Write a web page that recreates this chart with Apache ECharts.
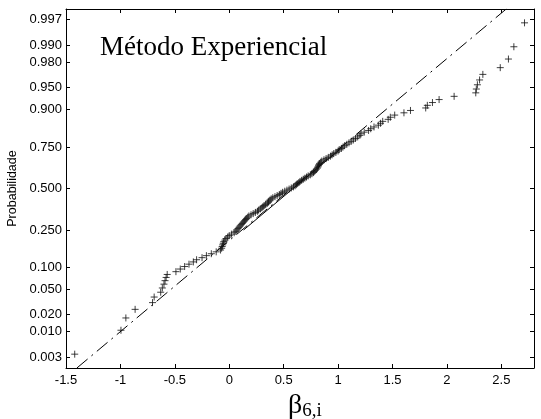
<!DOCTYPE html>
<html>
<head>
<meta charset="utf-8">
<script src="https://cdn.jsdelivr.net/npm/echarts@6/dist/echarts.min.js"></script>
<style>html,body{margin:0;padding:0;background:#fff}#c{width:541px;height:419px}</style>
</head>
<body>
<div id="c"></div>
<script>
// Probability tick labels of the normal-probability y axis
const probTicks = [0.003, 0.01, 0.02, 0.05, 0.10, 0.25, 0.50, 0.75, 0.90, 0.95, 0.98, 0.99, 0.997];
// Sorted sample values beta_6,i
const beta = [
  -1.42, -0.995, -0.95, -0.865, -0.705, -0.69, -0.63, -0.615, -0.60, -0.59, -0.58, -0.57,
  -0.49, -0.45, -0.41, -0.37, -0.33, -0.30, -0.25, -0.21, -0.165, -0.12, -0.08,
  -0.07, -0.065, -0.06, -0.055, -0.05, -0.04, -0.03, -0.015,
  0.0, 0.02, 0.045, 0.06, 0.07, 0.08, 0.09, 0.10, 0.11, 0.12, 0.13, 0.14, 0.15, 0.16,
  0.17, 0.18, 0.20, 0.22, 0.24, 0.26, 0.27, 0.285, 0.30, 0.31, 0.32, 0.335, 0.35, 0.36,
  0.365, 0.375, 0.385, 0.40, 0.42, 0.44, 0.46, 0.475, 0.49, 0.51, 0.53, 0.55, 0.57, 0.59,
  0.605, 0.615, 0.625, 0.64, 0.65, 0.665, 0.68, 0.695, 0.71, 0.725, 0.745, 0.76, 0.775,
  0.78, 0.79, 0.80, 0.81, 0.815, 0.82, 0.825, 0.83, 0.84, 0.85, 0.87, 0.89, 0.91, 0.93,
  0.945, 0.96, 0.98, 1.0, 1.01, 1.03, 1.045, 1.06, 1.08, 1.10, 1.12, 1.14, 1.16, 1.18,
  1.20, 1.21, 1.24, 1.28, 1.30, 1.33, 1.37, 1.39, 1.41, 1.46, 1.48, 1.52, 1.605, 1.665,
  1.805, 1.82, 1.867, 1.928, 2.066, 2.265, 2.27, 2.28, 2.30, 2.33, 2.49, 2.565, 2.615, 2.713
];
// Reference line: x at the bottom and top plot edges, and the solid (quartile) part
const refLineX = [-1.40, 2.545];
const refLineP = [0.00175, 0.99825];
const solidX = [0.132, 1.042];
const solidP = [0.25, 0.75];

function norminv(p){
  const a=[-3.969683028665376e+01,2.209460984245205e+02,-2.759285104469687e+02,1.383577518672690e+02,-3.066479806614716e+01,2.506628277459239e+00];
  const b=[-5.447609879822406e+01,1.615858368580409e+02,-1.556989798598866e+02,6.680131188771972e+01,-1.328068155288572e+01];
  const c=[-7.784894002430293e-03,-3.223964580411365e-01,-2.400758277161838e+00,-2.549732539343734e+00,4.374664141464968e+00,2.938163982698783e+00];
  const d=[7.784695709041462e-03,3.224671290700398e-01,2.445134137142996e+00,3.754408661907416e+00];
  const pl=0.02425, ph=1-pl; let q,r;
  if(p<pl){q=Math.sqrt(-2*Math.log(p));return (((((c[0]*q+c[1])*q+c[2])*q+c[3])*q+c[4])*q+c[5])/((((d[0]*q+d[1])*q+d[2])*q+d[3])*q+1);}
  if(p<=ph){q=p-0.5;r=q*q;return (((((a[0]*r+a[1])*r+a[2])*r+a[3])*r+a[4])*r+a[5])*q/(((((b[0]*r+b[1])*r+b[2])*r+b[3])*r+b[4])*r+1);}
  q=Math.sqrt(-2*Math.log(1-p));return -(((((c[0]*q+c[1])*q+c[2])*q+c[3])*q+c[4])*q+c[5])/((((d[0]*q+d[1])*q+d[2])*q+d[3])*q+1);
}

const n = beta.length;
const points = beta.map((v, i) => [v, norminv((i + 0.5) / n)]);
const tickZ = probTicks.map(norminv);
const yMin = norminv(refLineP[0]), yMax = norminv(refLineP[1]);
function labelFor(v){
  let best = 0, bd = Infinity;
  tickZ.forEach((z, i) => { const dd = Math.abs(z - v); if (dd < bd) { bd = dd; best = i; } });
  return probTicks[best].toFixed(3);
}

const black = '#000';
const tickFont = { color: black, fontSize: 13, fontFamily: 'Liberation Sans, Arial, sans-serif' };
const lineAx = { show: true, onZero: false, lineStyle: { color: black, width: 1 } };
const chart = echarts.init(document.getElementById('c'), null, { renderer: 'canvas' });
chart.setOption({
  animation: false,
  backgroundColor: '#fff',
  grid: { left: 66, right: 7, top: 9, bottom: 51, containLabel: false, outerBoundsMode: 'none' },
  xAxis: [
    {
      type: 'value', min: -1.5, max: 2.8, interval: 0.5, position: 'bottom',
      axisLine: lineAx,
      axisTick: { show: true, inside: true, length: 4, lineStyle: { color: black } },
      axisLabel: { ...tickFont, margin: 6, showMaxLabel: false },
      splitLine: { show: false },
      name: '{b|β}{s|6,i}', nameLocation: 'middle', nameGap: 23,
      nameTextStyle: {
        rich: {
          b: { fontFamily: 'Liberation Serif, Times New Roman, serif', fontSize: 28, color: black, padding: [0, 0, 0, 10] },
          s: { fontFamily: 'Liberation Serif, Times New Roman, serif', fontSize: 19, color: black, padding: [10, 0, 0, 0] }
        }
      }
    },
    {
      type: 'value', min: -1.5, max: 2.8, interval: 0.5, position: 'top',
      axisLine: lineAx,
      axisTick: { show: true, inside: true, length: 4, lineStyle: { color: black } },
      axisLabel: { show: false }, splitLine: { show: false }
    }
  ],
  yAxis: [
    {
      type: 'value', min: yMin, max: yMax, position: 'left',
      axisLine: lineAx,
      axisTick: { show: true, inside: true, length: 4, lineStyle: { color: black }, customValues: tickZ },
      axisLabel: { ...tickFont, margin: 4, customValues: tickZ, formatter: labelFor },
      splitLine: { show: false },
      name: 'Probabilidade', nameLocation: 'middle', nameGap: 46,
      nameTextStyle: { color: black, fontSize: 12.5, fontFamily: 'Liberation Sans, Arial, sans-serif' }
    },
    {
      type: 'value', min: yMin, max: yMax, position: 'right',
      axisLine: lineAx,
      axisTick: { show: true, inside: true, length: 4, lineStyle: { color: black }, customValues: tickZ },
      axisLabel: { show: false }, splitLine: { show: false }
    }
  ],
  graphic: [{
    type: 'text', left: 100, top: 34,
    style: { text: 'Método Experiencial', fill: black, font: '27px "Liberation Serif", "Times New Roman", serif' }
  }],
  series: [
    {
      type: 'line', xAxisIndex: 0, yAxisIndex: 0, showSymbol: false, silent: true,
      data: [[refLineX[0], norminv(refLineP[0])], [refLineX[1], norminv(refLineP[1])]],
      lineStyle: { color: black, width: 1, type: [14, 5, 2, 5] }, z: 2
    },
    {
      type: 'line', xAxisIndex: 0, yAxisIndex: 0, showSymbol: false, silent: true,
      data: [[solidX[0], norminv(solidP[0])], [solidX[1], norminv(solidP[1])]],
      lineStyle: { color: black, width: 1, type: 'solid' }, z: 2
    },
    {
      type: 'scatter', xAxisIndex: 0, yAxisIndex: 0, silent: true,
      symbol: 'path://M0,5L10,5M5,0L5,10', symbolSize: 7,
      itemStyle: { color: 'none', borderColor: '#111', borderWidth: 1 },
      data: points, z: 3
    }
  ]
});
</script>
</body>
</html>
